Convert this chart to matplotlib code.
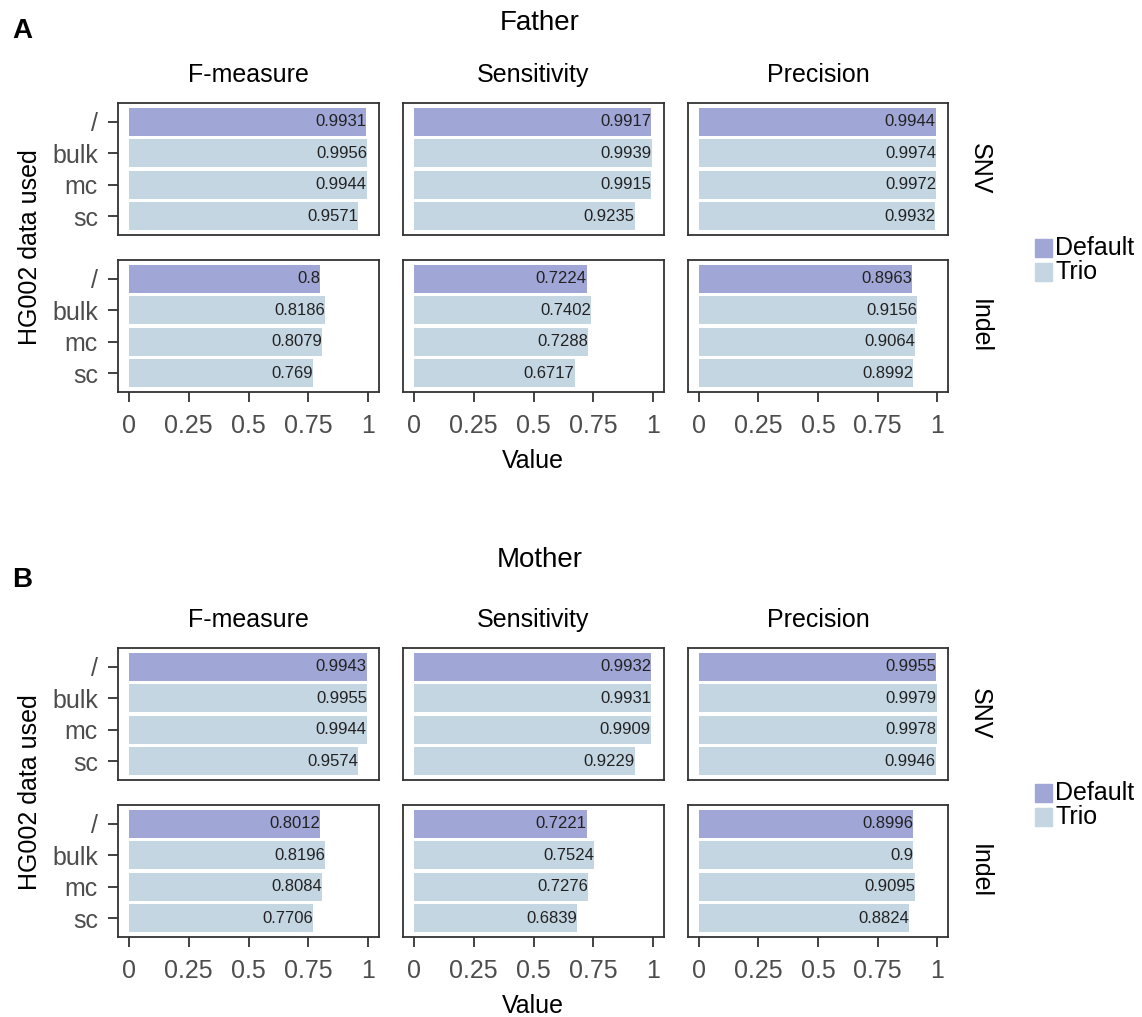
import numpy as np
import matplotlib
matplotlib.use("Agg")
import matplotlib.pyplot as plt
from matplotlib.patches import Rectangle

plt.rcParams['font.family'] = ['Liberation Sans', 'DejaVu Sans']

groups = ["/", "bulk", "mc", "sc"]
metrics = ["F-measure", "Sensitivity", "Precision"]
variants = ["SNV", "Indel"]

# Father: rows = variant, cols = metric, values in order of groups
father_snv_f = [0.9931, 0.9956, 0.9944, 0.9571]
father_snv_sens = [0.9917, 0.9939, 0.9915, 0.9235]
father_snv_prec = [0.9944, 0.9974, 0.9972, 0.9932]
father_indel_f = [0.8, 0.8186, 0.8079, 0.769]
father_indel_sens = [0.7224, 0.7402, 0.7288, 0.6717]
father_indel_prec = [0.8963, 0.9156, 0.9064, 0.8992]

# Mother
mother_snv_f = [0.9943, 0.9955, 0.9944, 0.9574]
mother_snv_sens = [0.9932, 0.9931, 0.9909, 0.9229]
mother_snv_prec = [0.9955, 0.9979, 0.9978, 0.9946]
mother_indel_f = [0.8012, 0.8196, 0.8084, 0.7706]
mother_indel_sens = [0.7221, 0.7524, 0.7276, 0.6839]
mother_indel_prec = [0.8996, 0.9, 0.9095, 0.8824]

xticks = [0, 0.25, 0.5, 0.75, 1]
xticklabels = ["0", "0.25", "0.5", "0.75", "1"]

c_default = "#a0a6d6"
c_trio = "#c5d6e3"
frame_col = "#333333"
tick_col = "#4d4d4d"

W, H = 1142, 1017
fig = plt.figure(figsize=(W / 100, H / 100), dpi=100)


def fx(px):
    return px / W


def fy(py):
    return 1 - py / H


col_x = [(118, 379), (403, 664), (688, 948)]


def draw_block(top, data, title, title_base, letter, letter_y):
    row_y = [(top, top + 132), (top + 157, top + 289)]
    fig.text(fx(540), fy(title_base), title, ha='center', va='baseline', fontsize=20)
    fig.text(fx(12), fy(letter_y), letter, ha='left', va='center', fontsize=20, fontweight='bold')
    ypos = np.arange(len(groups))
    for r, var in enumerate(variants):
        for c, met in enumerate(metrics):
            vals = data[var][met]
            x0, x1 = col_x[c]
            y0, y1 = row_y[r]
            ax = fig.add_axes([fx(x0), fy(y1), fx(x1 - x0), (y1 - y0) / H])
            colors = [c_default] + [c_trio] * (len(groups) - 1)
            ax.barh(ypos, vals, height=0.9, color=colors)
            for y, v in zip(ypos, vals):
                ax.text(v, y, f"{v:g}", ha='right', va='center', fontsize=12, color="#222222")
            ax.set_xlim(-0.046, 1.046)
            ax.set_ylim(3.6, -0.6)
            for s in ax.spines.values():
                s.set_color(frame_col)
                s.set_linewidth(1.3)
            ax.tick_params(colors=frame_col, width=1.3, length=7.5, labelcolor=tick_col, labelsize=18)
            ax.set_xticks(xticks)
            ax.set_yticks(ypos)
            if c == 0:
                ax.set_yticklabels(groups)
                ax.tick_params(axis='y', pad=7)
            else:
                ax.tick_params(axis='y', left=False, labelleft=False)
            if r == 1:
                ax.set_xticklabels(xticklabels)
                ax.tick_params(axis='x', pad=8)
            else:
                ax.tick_params(axis='x', bottom=False, labelbottom=False)
            if r == 0:
                fig.text(fx((x0 + x1) / 2), fy(top - 21), met, ha='center', va='baseline', fontsize=18)
            if c == 2:
                fig.text(fx(980), fy((y0 + y1) / 2), var, rotation=-90,
                         ha='center', va='center', fontsize=18)
    fig.text(fx(30), fy(top + 144), "HG002 data used", rotation=90,
             ha='center', va='center', fontsize=18)
    fig.text(fx(533), fy(top + 358), "Value", ha='center', va='center', fontsize=18)
    # legend keys
    for i, (lab, col) in enumerate([("Default", c_default), ("Trio", c_trio)]):
        yc = top + 145 + 24 * i
        fig.patches.append(Rectangle((fx(1035), fy(yc + 9)), 17 / W, 18 / H,
                                     transform=fig.transFigure, color=col))
        fig.text(fx(1055), fy(yc), lab, ha='left', va='center', fontsize=18)


father = {
    "SNV": {"F-measure": father_snv_f, "Sensitivity": father_snv_sens, "Precision": father_snv_prec},
    "Indel": {"F-measure": father_indel_f, "Sensitivity": father_indel_sens, "Precision": father_indel_prec},
}
mother = {
    "SNV": {"F-measure": mother_snv_f, "Sensitivity": mother_snv_sens, "Precision": mother_snv_prec},
    "Indel": {"F-measure": mother_indel_f, "Sensitivity": mother_indel_sens, "Precision": mother_indel_prec},
}

draw_block(103, father, "Father", 30, "A", 31)
draw_block(648, mother, "Mother", 567, "B", 580)

fig.savefig("out.png", dpi=100)
